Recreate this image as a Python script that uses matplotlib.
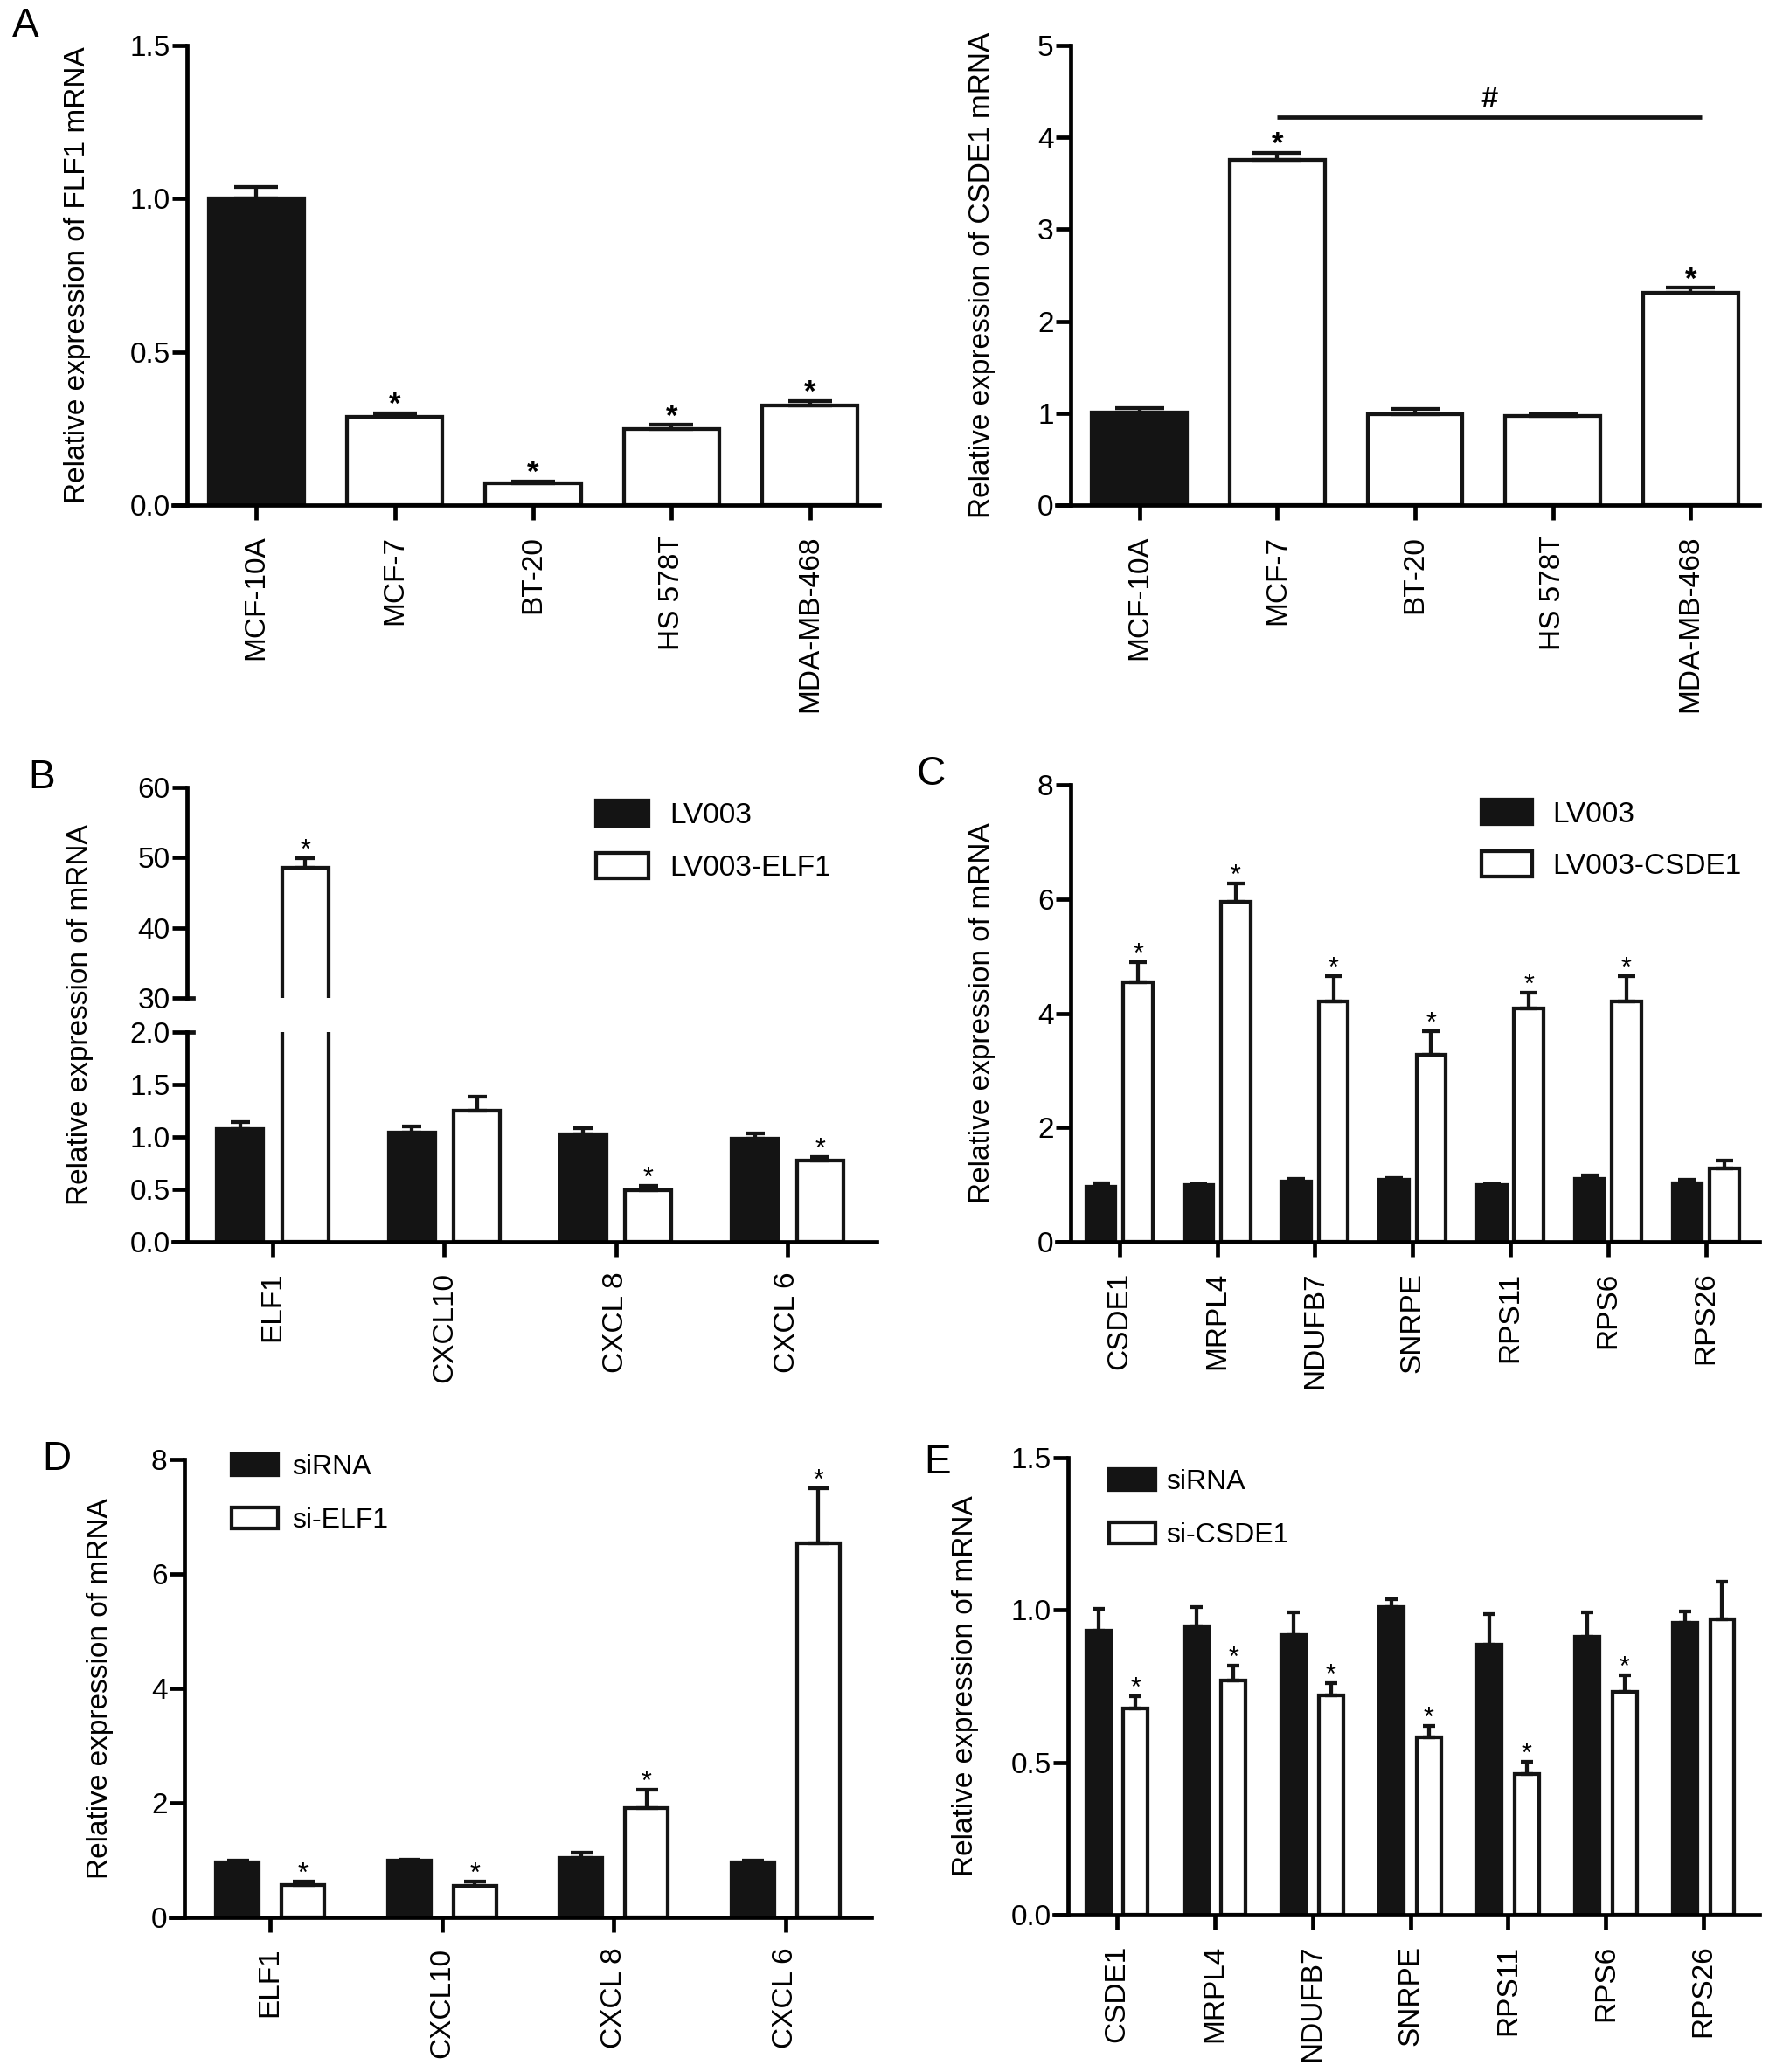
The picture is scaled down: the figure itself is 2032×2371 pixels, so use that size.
import numpy as np
import matplotlib
matplotlib.use("Agg")
import matplotlib.pyplot as plt
from matplotlib.patches import Patch

plt.rcParams["font.family"] = ["Liberation Sans", "DejaVu Sans"]
plt.rcParams["font.size"] = 24

# ---- data ----
cell_lines = ["MCF-10A", "MCF-7", "BT-20", "HS 578T", "MDA-MB-468"]
elf1_expr = [1.00, 0.288, 0.072, 0.249, 0.324]
elf1_err = [0.037, 0.012, 0.005, 0.012, 0.015]
elf1_sig = [False, True, True, True, True]
csde1_expr = [1.005, 3.756, 0.985, 0.97, 2.313]
csde1_err = [0.05, 0.075, 0.06, 0.015, 0.05]
csde1_sig = [False, True, False, False, True]
bracket_y = 4.22          # MCF-7 vs MDA-MB-468
bracket_from, bracket_to = 1, 4.08

chemokines = ["ELF1", "CXCL10", "CXCL 8", "CXCL 6"]
lv003_b = [1.078, 1.04, 1.027, 0.98]
lv003_b_err = [0.06, 0.06, 0.06, 0.05]
lv003_elf1 = [48.5, 1.247, 0.49, 0.776]
lv003_elf1_err = [1.4, 0.14, 0.04, 0.03]
lv003_elf1_sig = [True, False, True, True]

genes = ["CSDE1", "MRPL4", "NDUFB7", "SNRPE", "RPS11", "RPS6", "RPS26"]
lv003_c = [0.97, 0.99, 1.06, 1.08, 0.99, 1.10, 1.03]
lv003_c_err = [0.05, 0.02, 0.04, 0.04, 0.02, 0.07, 0.05]
lv003_csde1 = [4.54, 5.95, 4.20, 3.28, 4.09, 4.20, 1.28]
lv003_csde1_err = [0.35, 0.32, 0.45, 0.41, 0.27, 0.45, 0.14]
lv003_csde1_sig = [True, True, True, True, True, True, False]

sirna_d = [0.96, 0.99, 1.04, 0.96]
sirna_d_err = [0.04, 0.02, 0.09, 0.04]
si_elf1 = [0.56, 0.55, 1.91, 6.54]
si_elf1_err = [0.06, 0.07, 0.32, 0.95]
si_elf1_sig = [True, True, True, True]

sirna_e = [0.933, 0.947, 0.919, 1.01, 0.887, 0.913, 0.958]
sirna_e_err = [0.07, 0.063, 0.073, 0.026, 0.099, 0.08, 0.038]
si_csde1 = [0.677, 0.770, 0.720, 0.583, 0.462, 0.731, 0.969]
si_csde1_err = [0.04, 0.048, 0.039, 0.036, 0.039, 0.055, 0.123]
si_csde1_sig = [True, True, True, True, True, True, False]

W, H = 2032, 2371
BLACK = "#141414"
LW = 3.4

fig = plt.figure(figsize=(W / 100, H / 100), dpi=100)


def px_axes(x0, x1, ytop, ybot):
    return fig.add_axes([x0 / W, 1 - ybot / H, (x1 - x0) / W, (ybot - ytop) / H])


def style(ax, lim, ticks, fmt):
    for s in ("top", "right"):
        ax.spines[s].set_visible(False)
    for s in ("left", "bottom"):
        ax.spines[s].set_linewidth(LW)
    ax.tick_params(width=LW, length=12, labelsize=24)
    ax.tick_params(axis="y", pad=2)
    ax.tick_params(axis="x", pad=13)
    ax.set_ylim(*lim)
    ax.set_yticks(ticks)
    ax.set_yticklabels([fmt.format(t) for t in ticks])


def bars(ax, x, vals, errs, face, width, cap):
    ax.bar(x, vals, width, color=face, edgecolor=BLACK, linewidth=LW * 0.9, zorder=2)
    ax.errorbar(x, vals, yerr=[np.zeros(len(vals)), errs], fmt="none", ecolor=BLACK,
                elinewidth=LW * 0.9, capsize=cap, capthick=LW * 0.9, zorder=3)


def stars(ax, x, vals, errs, flags, size=24, weight="normal"):
    for xi, v, e, f in zip(x, vals, errs, flags):
        if f:
            ax.annotate("*", (xi, v + e), xytext=(0, 0), textcoords="offset points",
                        ha="center", va="baseline", fontsize=size, fontweight=weight,
                        annotation_clip=False)


def xcats(ax, names, lim):
    ax.set_xticks(np.arange(len(names)))
    ax.set_xticklabels(names, rotation=90)
    ax.set_xlim(*lim)
    # x axis line runs a little past the y axis, as in the GraphPad export
    ppu = ax.get_position().width * W / (lim[1] - lim[0])
    ax.spines["bottom"].set_bounds(lim[0] - 16 / ppu, lim[1])


def legend(labels, left, top, hl, hh, pad, size=24, spacing=0.8):
    hs = [Patch(facecolor=BLACK, edgecolor=BLACK, linewidth=LW * 0.9),
          Patch(facecolor="white", edgecolor=BLACK, linewidth=LW * 0.9)]
    fig.legend(hs, labels, loc="upper left", bbox_to_anchor=(left / W, 1 - top / H),
               bbox_transform=fig.transFigure, frameon=False, borderpad=0, borderaxespad=0,
               handlelength=hl, handleheight=hh, handletextpad=pad, labelspacing=spacing,
               fontsize=size)


# ---- A left ----
ax = px_axes(214, 1006, 52, 578)
x = np.arange(len(cell_lines))
colors = [BLACK] + ["white"] * (len(cell_lines) - 1)
bars(ax, x, elf1_expr, elf1_err, colors, 0.69, 18)
stars(ax, x, elf1_expr, elf1_err, elf1_sig, size=25, weight="bold")
style(ax, (0, 1.5), [0, 0.5, 1.0, 1.5], "{:.1f}")
xcats(ax, cell_lines, (-0.5, 4.5))
ax.set_ylabel("Relative expression of FLF1 mRNA")
ax.yaxis.set_label_coords(-0.139, 0.5)

# ---- A right ----
ax = px_axes(1225, 2013, 52, 578)
bars(ax, x, csde1_expr, csde1_err, colors, 0.69, 20)
stars(ax, x, csde1_expr, csde1_err, csde1_sig, size=25, weight="bold")
ax.plot([bracket_from, bracket_to], [bracket_y, bracket_y], color=BLACK, lw=LW, solid_capstyle="butt")
ax.annotate("#", ((bracket_from + bracket_to) / 2, bracket_y), xytext=(0, 8),
            textcoords="offset points", ha="center", va="baseline", fontsize=25,
            fontweight="bold")
style(ax, (0, 5), [0, 1, 2, 3, 4, 5], "{:d}")
xcats(ax, cell_lines, (-0.5, 4.5))
ax.set_ylabel("Relative expression of CSDE1 mRNA")
ax.yaxis.set_label_coords(-0.109, 0.5)

# ---- B (broken axis) ----
xb = np.arange(len(chemokines))
off, wb = 0.19, 0.27
axl = px_axes(214, 1003, 1181, 1421)
axu = px_axes(214, 1003, 901, 1142)
for a in (axl, axu):
    bars(a, xb - off, lv003_b, lv003_b_err, BLACK, wb, 8)
    bars(a, xb + off, lv003_elf1, lv003_elf1_err, "white", wb, 8)
style(axl, (0, 2.0), [0, 0.5, 1.0, 1.5, 2.0], "{:.1f}")
style(axu, (30, 60), [30, 40, 50, 60], "{:d}")
xcats(axl, chemokines, (-0.5, 3.52))
axu.set_xlim(-0.5, 3.52)
axu.spines["bottom"].set_visible(False)
axu.set_xticks([])
stars(axl, xb + off, lv003_elf1, lv003_elf1_err, [False] + lv003_elf1_sig[1:], size=22)
stars(axu, xb[:1] + off, lv003_elf1[:1], lv003_elf1_err[:1], lv003_elf1_sig[:1], size=22)
axu.plot([0, 0.009], [0, 0], transform=axu.transAxes, color=BLACK, lw=LW, clip_on=False)
axl.plot([0, 0.009], [1, 1], transform=axl.transAxes, color=BLACK, lw=LW, clip_on=False)
fig.text(107 / W, 1 - 1161 / H, "Relative expression of mRNA", rotation=90,
         ha="right", va="center", fontsize=24)
legend(["LV003", "LV003-ELF1"], 682, 916, 1.8, 0.96, 0.72)

# ---- C ----
ax = px_axes(1225, 2013, 898, 1421)
xc = np.arange(len(genes))
bars(ax, xc - off, lv003_c, lv003_c_err, BLACK, 0.3, 7)
bars(ax, xc + off, lv003_csde1, lv003_csde1_err, "white", 0.3, 7)
stars(ax, xc + off, lv003_csde1, lv003_csde1_err, lv003_csde1_sig, size=22)
style(ax, (0, 8), [0, 2, 4, 6, 8], "{:d}")
xcats(ax, genes, (-0.5, 6.55))
ax.set_ylabel("Relative expression of mRNA")
ax.yaxis.set_label_coords(-0.109, 0.5)
legend(["LV003", "LV003-CSDE1"], 1695, 915, 1.75, 0.93, 0.69)

# ---- D ----
ax = px_axes(211, 997, 1670, 2194)
bars(ax, xb - off, sirna_d, sirna_d_err, BLACK, 0.25, 9)
bars(ax, xb + off, si_elf1, si_elf1_err, "white", 0.25, 9)
stars(ax, xb + off, si_elf1, si_elf1_err, si_elf1_sig, size=22)
style(ax, (0, 8), [0, 2, 4, 6, 8], "{:d}")
xcats(ax, chemokines, (-0.5, 3.5))
ax.set_ylabel("Relative expression of mRNA")
ax.yaxis.set_label_coords(-0.103, 0.5)
legend(["siRNA", "si-ELF1"], 265, 1664, 1.65, 0.8, 0.5, size=23, spacing=0.95)

# ---- E ----
ax = px_axes(1222, 2013, 1668, 2191)
bars(ax, xc - off, sirna_e, sirna_e_err, BLACK, 0.25, 5)
bars(ax, xc + off, si_csde1, si_csde1_err, "white", 0.25, 5)
stars(ax, xc + off, si_csde1, si_csde1_err, si_csde1_sig, size=22)
style(ax, (0, 1.5), [0, 0.5, 1.0, 1.5], "{:.1f}")
xcats(ax, genes, (-0.5, 6.57))
ax.set_ylabel("Relative expression of mRNA")
ax.yaxis.set_label_coords(-0.129, 0.5)
legend(["siRNA", "si-CSDE1"], 1269, 1681, 1.65, 0.8, 0.4, size=23, spacing=0.95)

# panel letters
for lab, px, py in [("A", 29, 30), ("B", 48, 890), ("C", 1065, 886),
                    ("D", 65, 1670), ("E", 1073, 1674)]:
    fig.text(px / W, 1 - py / H, lab, ha="center", va="center", fontsize=33)

fig.savefig("out.png", dpi=100, facecolor="white")
